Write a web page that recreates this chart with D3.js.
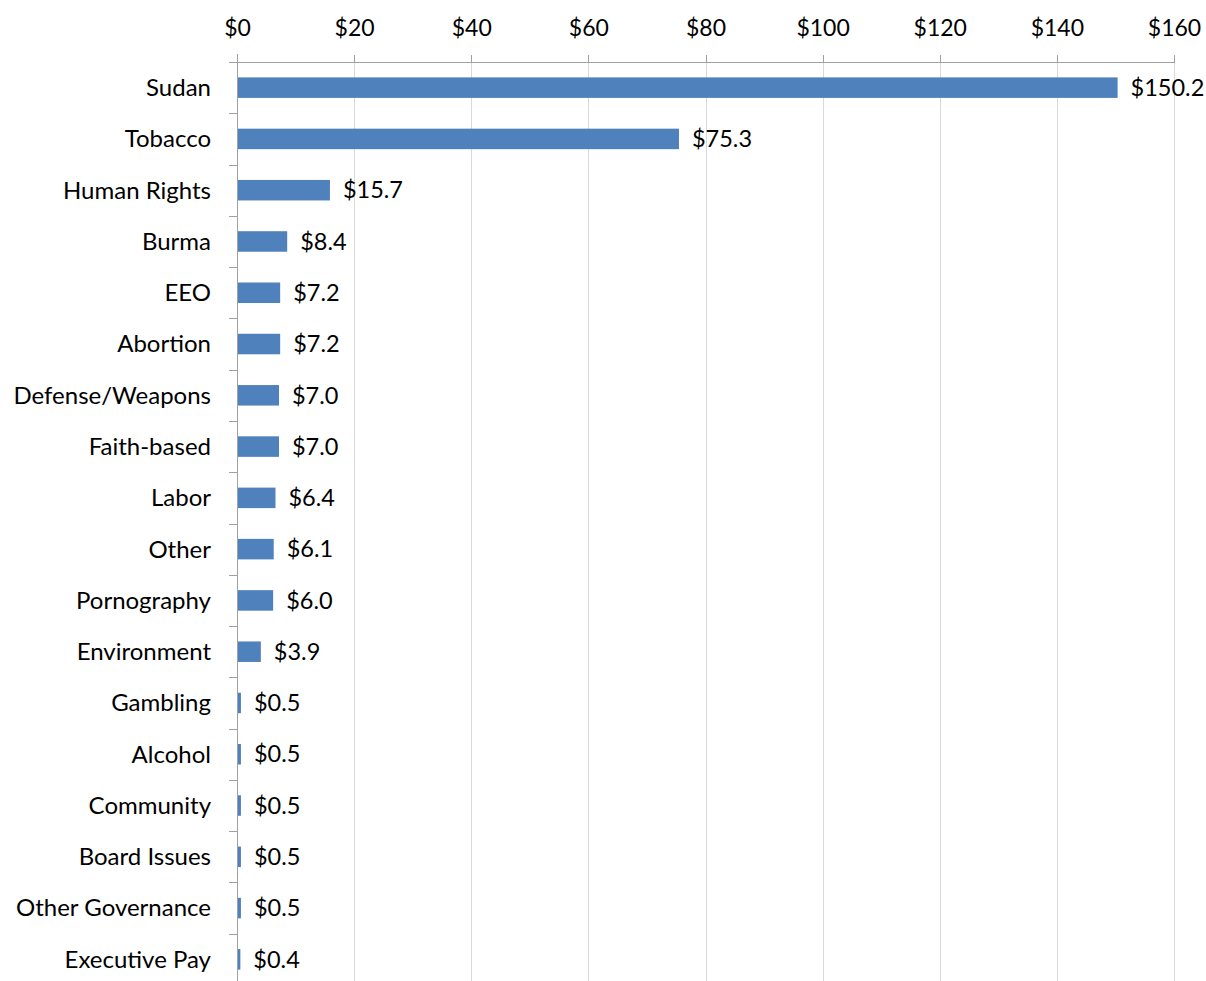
<!DOCTYPE html>
<html lang="en">
<head>
<meta charset="UTF-8"/>
<title>Bar chart</title>
<script src="https://d3js.org/d3.v7.min.js"></script>
<style>
    body { margin: 0; background: #fff; }
    text { font-family: Lato, "Open Sans", sans-serif; font-size: 24px; fill: #000; }
    .grid line { stroke: #d9d9d9; stroke-width: 1px; }
    .axis path, .axis line { stroke: #a0a0a0; shape-rendering: crispEdges; }
</style>
</head>
<body>
<svg width="1206" height="981"></svg>
<script>
    const categories = ["Sudan", "Tobacco", "Human Rights", "Burma", "EEO", "Abortion",
        "Defense/Weapons", "Faith-based", "Labor", "Other", "Pornography", "Environment",
        "Gambling", "Alcohol", "Community", "Board Issues", "Other Governance", "Executive Pay"];
    const values = [150.2, 75.3, 15.7, 8.4, 7.2, 7.2, 7.0, 7.0, 6.4, 6.1, 6.0, 3.9,
        0.5, 0.5, 0.5, 0.5, 0.5, 0.4];
    const tickValues = [0, 20, 40, 60, 80, 100, 120, 140, 160];

    const svg = d3.select("svg"),
        plotLeft = 237, plotRight = 1174, plotTop = 62, plotBottom = 985;

    const x = d3.scaleLinear().domain([0, 160]).range([plotLeft, plotRight]);
    const y = d3.scaleBand().domain(categories).range([plotTop, plotBottom]).paddingInner(0.6).paddingOuter(0.3);

    // vertical gridlines
    svg.append("g").attr("class", "grid")
        .selectAll("line").data(tickValues.slice(1)).enter().append("line")
        .attr("x1", d => Math.round(x(d)) + 0.5).attr("x2", d => Math.round(x(d)) + 0.5)
        .attr("y1", plotTop).attr("y2", plotBottom);

    // top axis
    const xAxis = svg.append("g").attr("class", "axis")
        .attr("transform", "translate(0," + (plotTop + 0.5) + ")")
        .call(d3.axisTop(x).tickValues(tickValues).tickFormat(d => "$" + d).tickSize(8).tickPadding(19));
    xAxis.select(".domain").attr("d", "M" + (plotLeft - 8) + ",0H" + plotRight);
    xAxis.selectAll("text").style("font-size", "23px").attr("fill", "#000");

    // left axis with boundary ticks
    const yAxis = svg.append("g").attr("class", "axis");
    yAxis.append("line").attr("x1", plotLeft + 0.5).attr("x2", plotLeft + 0.5).attr("y1", plotTop - 8).attr("y2", plotBottom);
    const step = y.step();
    yAxis.selectAll(".btick").data(d3.range(1, categories.length + 1)).enter().append("line")
        .attr("x1", plotLeft - 8).attr("x2", plotLeft)
        .attr("y1", i => Math.round(plotTop + i * step) + 0.5).attr("y2", i => Math.round(plotTop + i * step) + 0.5);

    // bars
    svg.append("g").selectAll("rect").data(values).enter().append("rect")
        .attr("x", x(0) + 1)
        .attr("y", (d, i) => y(categories[i]))
        .attr("width", d => x(d) - x(0))
        .attr("height", y.bandwidth())
        .attr("fill", "#4f81bd");

    // category labels
    svg.append("g").selectAll("text").data(categories).enter().append("text")
        .attr("x", 211)
        .attr("y", d => y(d) + y.bandwidth() / 2)
        .attr("dy", "0.35em")
        .attr("text-anchor", "end")
        .text(d => d);

    // value labels
    svg.append("g").selectAll("text").data(values).enter().append("text")
        .attr("x", d => x(d) + 14)
        .attr("y", (d, i) => y(categories[i]) + y.bandwidth() / 2)
        .attr("dy", "0.35em")
        .style("font-size", "23.5px")
        .text(d => "$" + d.toFixed(1));
</script>
</body>
</html>
